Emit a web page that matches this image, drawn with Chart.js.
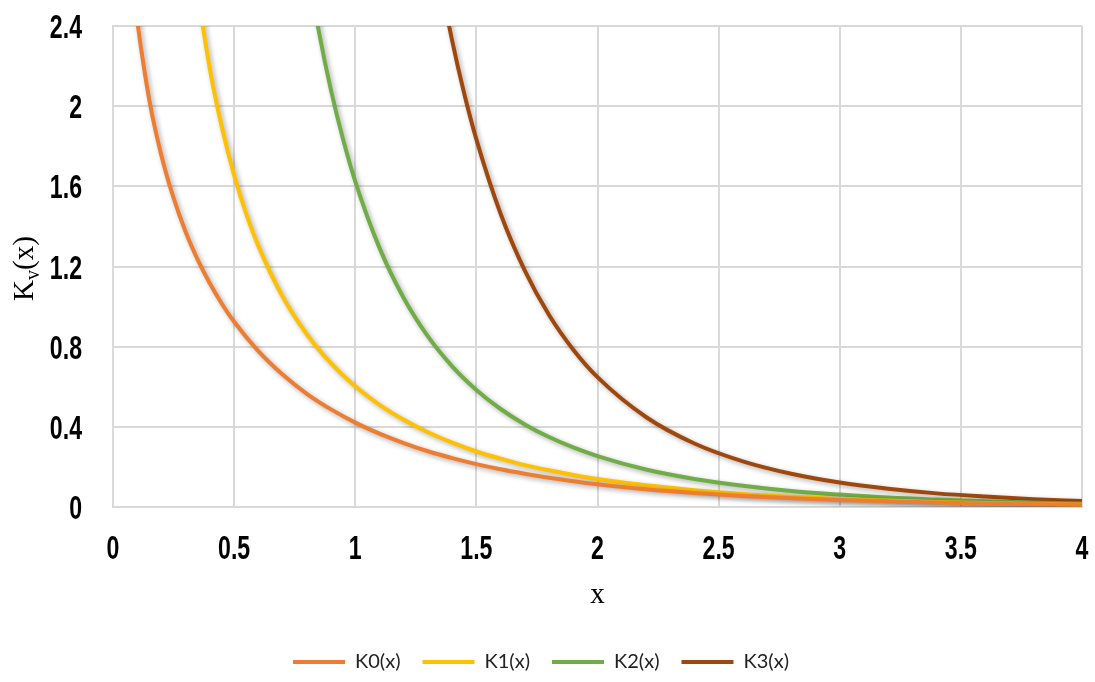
<!DOCTYPE html>
<html><head><meta charset="utf-8">
<script src="https://cdn.jsdelivr.net/npm/chart.js@4/dist/chart.umd.min.js"></script>
<style>html,body{margin:0;padding:0;background:#fff}#wrap{width:1095px;height:682px}</style>
</head><body><div id="wrap"><canvas id="c" width="1095" height="682"></canvas></div>
<script>
const seriesNames = ['K0(x)', 'K1(x)', 'K2(x)', 'K3(x)'];
const seriesColors = ['#ED7D31', '#FFC000', '#70AD47', '#9E480E'];

const k0X = [0.09, 0.1, 0.15, 0.2, 0.25, 0.3, 0.35, 0.4, 0.45, 0.5, 0.6, 0.7, 0.8, 0.9, 1.0, 1.1, 1.2, 1.3, 1.4, 1.5, 1.6, 1.7, 1.8, 1.9, 2.0, 2.2, 2.4, 2.6, 2.8, 3.0, 3.2, 3.4, 3.6, 3.8, 4.0];
const k0Y = [2.53, 2.427, 2.030, 1.753, 1.542, 1.372, 1.233, 1.115, 1.013, 0.924, 0.778, 0.661, 0.565, 0.487, 0.421, 0.366, 0.319, 0.278, 0.244, 0.214, 0.188, 0.166, 0.146, 0.129, 0.114, 0.089, 0.070, 0.055, 0.044, 0.035, 0.028, 0.022, 0.018, 0.014, 0.011];

const k1X = [0.35, 0.4, 0.45, 0.5, 0.55, 0.6, 0.7, 0.8, 0.9, 1.0, 1.1, 1.2, 1.3, 1.4, 1.5, 1.6, 1.7, 1.8, 1.9, 2.0, 2.2, 2.4, 2.6, 2.8, 3.0, 3.2, 3.4, 3.6, 3.8, 4.0];
const k1Y = [2.559, 2.184, 1.892, 1.656, 1.463, 1.303, 1.050, 0.862, 0.717, 0.602, 0.510, 0.435, 0.373, 0.321, 0.277, 0.241, 0.209, 0.183, 0.160, 0.140, 0.108, 0.084, 0.065, 0.051, 0.040, 0.032, 0.025, 0.020, 0.016, 0.012];

const k2X = [0.8, 0.85, 0.9, 0.95, 1.0, 1.1, 1.2, 1.3, 1.4, 1.5, 1.6, 1.7, 1.8, 1.9, 2.0, 2.2, 2.4, 2.6, 2.8, 3.0, 3.2, 3.4, 3.6, 3.8, 4.0];
const k2Y = [2.720, 2.371, 2.079, 1.834, 1.625, 1.293, 1.043, 0.851, 0.702, 0.584, 0.489, 0.412, 0.349, 0.297, 0.254, 0.187, 0.140, 0.106, 0.080, 0.062, 0.047, 0.037, 0.029, 0.022, 0.017];

const k3X = [1.3, 1.35, 1.4, 1.45, 1.5, 1.6, 1.7, 1.8, 1.9, 2.0, 2.2, 2.4, 2.6, 2.8, 3.0, 3.2, 3.4, 3.6, 3.8, 4.0];
const k3Y = [2.992, 2.634, 2.327, 2.062, 1.834, 1.463, 1.179, 0.958, 0.785, 0.648, 0.449, 0.317, 0.228, 0.166, 0.122, 0.091, 0.068, 0.052, 0.039, 0.030];

const xTicks = [0, 0.5, 1, 1.5, 2, 2.5, 3, 3.5, 4];
const yTicks = [0, 0.4, 0.8, 1.2, 1.6, 2, 2.4];
const xTickLabels = ['0', '0.5', '1', '1.5', '2', '2.5', '3', '3.5', '4'];
const yTickLabels = ['0', '0.4', '0.8', '1.2', '1.6', '2', '2.4'];
const xTitle = 'x';
const yTitleMain = 'K';
const yTitleSub = 'v';
const yTitleEnd = '(x)';

const seriesX = [k0X, k1X, k2X, k3X];
const seriesY = [k0Y, k1Y, k2Y, k3Y];

const tickFontStr = "bold 34px 'Liberation Sans', Arial, sans-serif";
const tickSqueeze = 0.68;

const shadowPlugin = {
  id: 'shadow',
  beforeDatasetDraw(chart) {
    const c = chart.ctx;
    c.save();
    c.shadowColor = 'rgba(0,0,0,0.33)';
    c.shadowBlur = 5;
    c.shadowOffsetX = 2;
    c.shadowOffsetY = 2;
  },
  afterDatasetDraw(chart) { chart.ctx.restore(); }
};

const labelsPlugin = {
  id: 'condensedTickLabels',
  afterDraw(chart) {
    const c = chart.ctx;
    const xs = chart.scales.x, ys = chart.scales.y;
    c.save();
    c.font = tickFontStr;
    c.fillStyle = '#000';
    c.textBaseline = 'alphabetic';
    xTicks.forEach((v, i) => {
      c.save();
      c.translate(xs.getPixelForValue(v), xs.top + 52);
      c.scale(tickSqueeze, 1);
      c.textAlign = 'center';
      c.fillText(xTickLabels[i], 0, 0);
      c.restore();
    });
    yTicks.forEach((v, i) => {
      c.save();
      c.translate(ys.right - 31, ys.getPixelForValue(v) + 12);
      c.scale(tickSqueeze, 1);
      c.textAlign = 'right';
      c.fillText(yTickLabels[i], 0, 0);
      c.restore();
    });
    c.restore();
  }
};

const yTitlePlugin = {
  id: 'yTitle',
  afterDraw(chart) {
    const c = chart.ctx;
    const area = chart.chartArea;
    const big = "29px 'Liberation Serif', 'DejaVu Serif', serif";
    const small = "20px 'Liberation Serif', 'DejaVu Serif', serif";
    c.save();
    c.font = big;
    const w1 = c.measureText(yTitleMain).width;
    const w3 = c.measureText(yTitleEnd).width;
    c.font = small;
    const w2 = c.measureText(yTitleSub).width;
    const total = w1 + w2 + w3;
    c.translate(33, (area.top + area.bottom) / 2 + 2);
    c.rotate(-Math.PI / 2);
    c.fillStyle = '#000';
    c.textBaseline = 'alphabetic';
    c.textAlign = 'left';
    let x = -total / 2;
    c.font = big; c.fillText(yTitleMain, x, 0); x += w1;
    c.font = small; c.fillText(yTitleSub, x, 6); x += w2;
    c.font = big; c.fillText(yTitleEnd, x, 0);
    c.restore();
  }
};

new Chart(document.getElementById('c'), {
  type: 'line',
  data: {
    datasets: seriesNames.map((name, i) => ({
      label: name,
      data: seriesX[i].map((x, j) => ({ x: x, y: seriesY[i][j] })),
      borderColor: seriesColors[i],
      backgroundColor: seriesColors[i],
      borderWidth: 4,
      pointRadius: 0,
      fill: false,
      cubicInterpolationMode: 'monotone',
      clip: 0
    }))
  },
  options: {
    responsive: false,
    animation: false,
    layout: { padding: { top: 26, right: 13, left: 0, bottom: 0 } },
    scales: {
      x: {
        type: 'linear', min: 0, max: 4,
        afterBuildTicks: s => { s.ticks = xTicks.map(v => ({ value: v })); },
        afterFit: s => { s.height = 123; },
        ticks: { display: false },
        grid: { color: '#d9d9d9', lineWidth: 2, drawTicks: false },
        border: { color: '#d9d9d9', width: 2 },
        title: { display: true, text: xTitle, color: '#000', font: { family: "'Liberation Serif', 'DejaVu Serif', serif", size: 29 }, padding: { top: 0, bottom: 17 } }
      },
      y: {
        type: 'linear', min: 0, max: 2.4,
        afterBuildTicks: s => { s.ticks = yTicks.map(v => ({ value: v })); },
        afterFit: s => { s.width = 113; },
        ticks: { display: false },
        grid: { color: '#d9d9d9', lineWidth: 2, drawTicks: false },
        border: { color: '#d9d9d9', width: 2 }
      }
    },
    plugins: {
      legend: {
        position: 'bottom',
        labels: {
          usePointStyle: true, pointStyle: 'line', pointStyleWidth: 52,
          font: { family: "Lato, 'Open Sans', sans-serif", size: 20 },
          color: '#222', padding: 22, boxHeight: 20
        }
      },
      tooltip: { enabled: false }
    }
  },
  plugins: [shadowPlugin, labelsPlugin, yTitlePlugin]
});
</script></body></html>
